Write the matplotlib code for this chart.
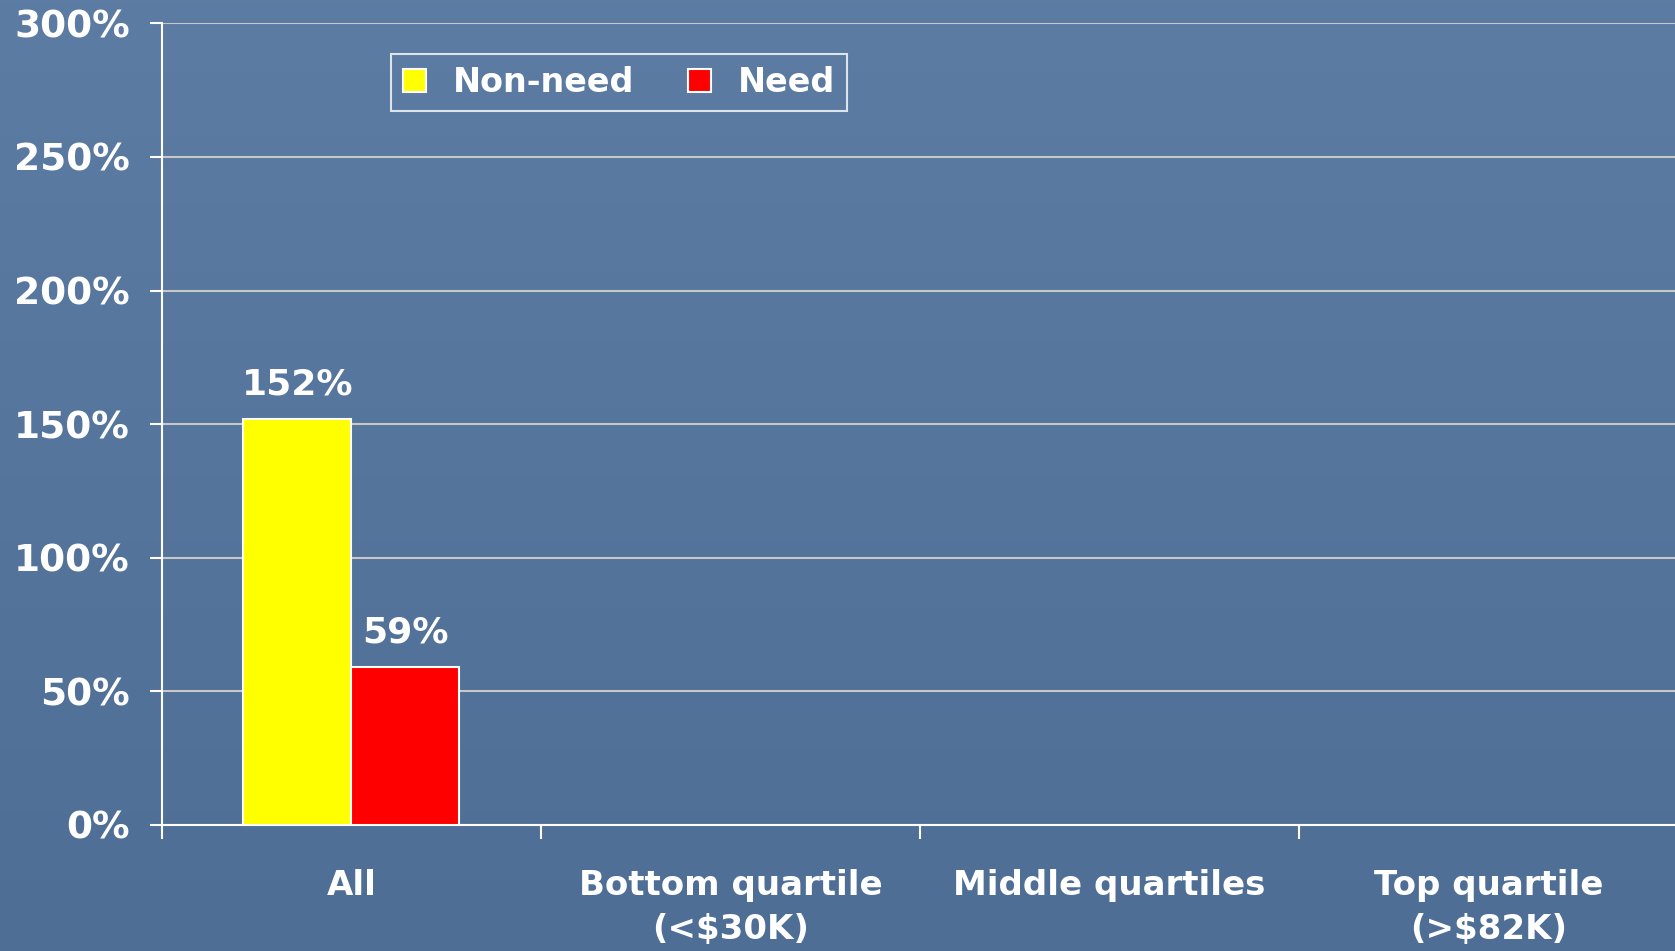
import numpy as np
import matplotlib.pyplot as plt
from matplotlib.patches import Patch

categories = ['All', 'Bottom quartile\n(<$30K)', 'Middle quartiles', 'Top quartile\n(>$82K)']
non_need = [152, np.nan, np.nan, np.nan]
need = [59, np.nan, np.nan, np.nan]
yticks = [0, 50, 100, 150, 200, 250, 300]

plt.rcParams['font.family'] = ['DejaVu Sans']
plt.rcParams['font.weight'] = 'bold'

fig = plt.figure(figsize=(16.75, 9.51), dpi=100)

# blue slide background, slightly darker at the bottom
bg = fig.add_axes([0, 0, 1, 1], zorder=-10)
grad = np.linspace(0, 1, 256).reshape(-1, 1)
top = np.array([92, 124, 163]) / 255
bot = np.array([78, 110, 150]) / 255
img = top + (bot - top) * grad[..., None]
bg.imshow(img, aspect='auto', extent=[0, 1, 0, 1])
bg.axis('off')

ax = fig.add_axes([0.0967, 0.1325, 0.905, 0.843])
ax.patch.set_alpha(0)

x = np.arange(len(categories))
w = 0.285
b1 = ax.bar(x - w / 2, non_need, w, color='#ffff00', edgecolor='white', linewidth=1.5, zorder=3)
b2 = ax.bar(x + w / 2, need, w, color='#ff0000', edgecolor='white', linewidth=1.5, zorder=3)

for bars, vals in [(b1, non_need), (b2, need)]:
    for rect, v in zip(bars, vals):
        if np.isnan(v):
            continue
        ax.text(rect.get_x() + rect.get_width() / 2, v + 6.5, f'{v:.0f}%',
                ha='center', va='bottom', color='white', fontsize=26, fontweight='bold')

ax.set_xlim(-0.5, len(categories) - 0.5)
ax.set_ylim(0, 300)
ax.set_yticks(yticks)
ax.set_yticklabels([f'{t}%' for t in yticks])
ax.set_xticks(np.arange(len(categories) + 1) - 0.5, minor=False)
ax.set_xticklabels([''] * (len(categories) + 1))
ax.set_xticks(x, minor=True)
ax.set_xticklabels(categories, minor=True, linespacing=1.4)
ax.tick_params(axis='x', which='minor', length=0, pad=32, labelsize=24.5, labelcolor='white')
ax.tick_params(axis='x', which='major', length=10, width=1.5, color='white', direction='out')
ax.tick_params(axis='y', length=9, width=1.5, color='white', pad=14, labelsize=27, labelcolor='white')
for lab in ax.get_yticklabels():
    lab.set_fontweight('bold')
for lab in ax.get_xticklabels(minor=True):
    lab.set_fontweight('bold')
    lab.set_verticalalignment('top')

ax.yaxis.grid(True, color='#c8c8c8', linewidth=1.5, zorder=0)
ax.set_axisbelow(True)
for s in ['top', 'right']:
    ax.spines[s].set_visible(False)
for s in ['left', 'bottom']:
    ax.spines[s].set_color('white')
    ax.spines[s].set_linewidth(1.5)

handles = [Patch(facecolor='#ffff00', edgecolor='white', linewidth=1.5, label='Non-need'),
           Patch(facecolor='#ff0000', edgecolor='white', linewidth=1.5, label='Need')]
leg = fig.legend(handles=handles, ncol=2, loc='upper left',
                 bbox_to_anchor=(391 / 1675, 1 - 54 / 951), borderaxespad=0,
                 frameon=True, fancybox=False, facecolor='none', edgecolor='white',
                 prop={'size': 24, 'weight': 'bold'}, handlelength=0.7, handleheight=0.7,
                 handletextpad=0.8, columnspacing=1.6, borderpad=0.36)
leg.get_frame().set_linewidth(1.5)
for t in leg.get_texts():
    t.set_color('white')

fig.savefig('out.png', dpi=100)
